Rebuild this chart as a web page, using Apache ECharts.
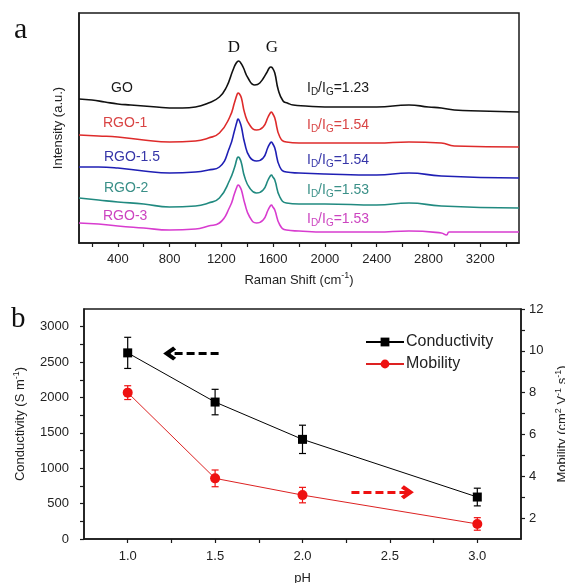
<!DOCTYPE html>
<html>
<head>
<meta charset="utf-8">
<script src="https://cdn.jsdelivr.net/npm/echarts@6/dist/echarts.min.js"></script>
<style>
  html, body { margin: 0; padding: 0; background: #fff; }
  #chart { width: 565px; height: 583px; }
</style>
</head>
<body>
<div id="chart"></div>
<script>
// ---- Panel a: Raman spectra (offset stacked), [shift cm-1, intensity a.u.] ----
const spectrumGO = [
  [100,144],[200,143],[300,141],[400,139],[500,138],[600,137],[700,136],[800,135],[900,135],
  [1000,136],[1100,140],[1185,146],[1240,156],[1290,173],[1315,180],[1334,182],[1350,180],
  [1368,176],[1406,165],[1458,158],[1497,160],[1549,170],[1570,175],[1582,176],[1595,175],
  [1613,170],[1640,153],[1677,142],[1710,140],[1755,138],[1850,137],[2000,136],[2200,136],
  [2400,136],[2650,138],[2800,136],[2900,135],[3000,133],[3200,132],[3500,131]
];
const spectrumRGO1 = [
  [100,108],[250,107],[400,106],[600,103],[800,101],[1000,102],[1100,105],[1185,110],
  [1265,126],[1303,141],[1320,148],[1329,150],[1340,149],[1355,145],[1380,130],[1419,118],
  [1471,113],[1523,116],[1561,126],[1578,130],[1587,131],[1598,129],[1613,125],[1652,106],
  [1703,101],[1800,100],[2000,100],[2400,100],[2650,101],[2900,100],[3000,97],[3500,96]
];
const spectrumRGO15 = [
  [100,76],[250,76],[400,75],[600,72],[800,70],[1000,71],[1100,73],[1185,76],
  [1265,96],[1303,113],[1320,121],[1329,124],[1340,122],[1355,116],[1380,100],[1419,86],
  [1471,82],[1523,85],[1561,96],[1578,100],[1587,101],[1598,99],[1613,95],[1652,76],
  [1703,71],[1800,70],[2000,69],[2400,68],[2650,70],[2900,67],[3500,65]
];
const spectrumRGO2 = [
  [100,45],[250,43],[400,41],[600,39],[800,36],[1000,37],[1100,40],[1185,45],
  [1265,63],[1303,76],[1320,84],[1329,86],[1340,85],[1355,80],[1380,66],[1419,55],
  [1471,50],[1523,53],[1561,63],[1578,67],[1587,68],[1598,66],[1613,63],[1652,46],
  [1703,40],[1800,39],[2000,39],[2400,38],[2650,40],[2900,37],[3500,35]
];
const spectrumRGO3 = [
  [100,20],[250,19],[400,17],[600,15],[800,13],[1000,14],[1100,17],[1185,20],
  [1265,36],[1303,50],[1320,56],[1329,58],[1340,57],[1355,53],[1380,40],[1419,26],
  [1471,20],[1523,23],[1561,33],[1578,37],[1587,38],[1598,36],[1613,33],[1652,18],
  [1703,13],[1800,12],[2000,11],[2400,11],[2650,12],[2900,10],[2940,8],[2960,11],[3500,11]
];
const sampleNames = ['GO', 'RGO-1', 'RGO-1.5', 'RGO-2', 'RGO-3'];
const ratioValues = ['1.23', '1.54', '1.54', '1.53', '1.53'];
const sampleColors = ['#111111', '#de2b2b', '#1f1fb4', '#218a80', '#d83ccf'];
const labelColors = ['#1a1a1a', '#d94444', '#3535a8', '#3a9088', '#cc44c0'];
const ramanTicks = [200,400,600,800,1000,1200,1400,1600,1800,2000,2200,2400,2600,2800,3000,3200,3400];
const ramanLabels = [400,800,1200,1600,2000,2400,2800,3200];

// ---- Panel b: conductivity and mobility vs pH ----
const pH = [1.0, 1.5, 2.0, 3.0];
const conductivity = [2630, 1935, 1408, 593];
const conductivityErr = [220, 180, 200, 125];
const mobility = [8.0, 3.9, 3.1, 1.72];
const mobilityErr = [0.33, 0.4, 0.37, 0.3];
const pHTicks = [1.0, 1.25, 1.5, 1.75, 2.0, 2.25, 2.5, 2.75, 3.0];
const pHLabels = [1.0, 1.5, 2.0, 2.5, 3.0];
const condTicks = [0,250,500,750,1000,1250,1500,1750,2000,2250,2500,2750,3000];
const condLabels = [0,500,1000,1500,2000,2500,3000];
const mobTicks = [2,3,4,5,6,7,8,9,10,11,12];
const mobLabels = [2,4,6,8,10,12];

const SANS = '"Liberation Sans", Arial, sans-serif';
const SERIF = '"Liberation Serif", "Times New Roman", serif';
const INK = '#222';
const plain = v => String(v);

const chart = echarts.init(document.getElementById('chart'), null, { renderer: 'canvas' });

function errorBarSeries(name, data, err, yAxisIndex, color) {
  return {
    type: 'custom',
    name: name + ' error',
    xAxisIndex: 1,
    yAxisIndex: yAxisIndex,
    z: 3,
    silent: true,
    data: pH.map((x, i) => [x, data[i], err[i]]),
    encode: { x: 0, y: 1 },
    renderItem: function (params, api) {
      const x = api.value(0), y = api.value(1), e = api.value(2);
      const hi = api.coord([x, y + e]);
      const lo = api.coord([x, y - e]);
      const w = 3.5;
      const st = { stroke: color, lineWidth: 1.2 };
      return {
        type: 'group',
        children: [
          { type: 'line', shape: { x1: hi[0], y1: hi[1], x2: lo[0], y2: lo[1] }, style: st },
          { type: 'line', shape: { x1: hi[0] - w, y1: hi[1], x2: hi[0] + w, y2: hi[1] }, style: st },
          { type: 'line', shape: { x1: lo[0] - w, y1: lo[1], x2: lo[0] + w, y2: lo[1] }, style: st }
        ]
      };
    }
  };
}

const chevron = 'path://M10,0 L20,10 L16,13 L10,7 L4,13 L0,10 Z';

const spectra = [spectrumGO, spectrumRGO1, spectrumRGO15, spectrumRGO2, spectrumRGO3];

const subRich = {
  n: { fontSize: 14, fontFamily: SANS, lineHeight: 18, verticalAlign: 'middle' },
  s: { fontSize: 10, fontFamily: SANS, lineHeight: 10, padding: [9, 0, 0, 0], verticalAlign: 'middle' },
  p: { fontSize: 9, fontFamily: SANS, lineHeight: 9, padding: [0, 0, 8, 0], verticalAlign: 'middle' },
  t: { fontSize: 13, fontFamily: SANS, lineHeight: 18, verticalAlign: 'middle' }
};

const graphics = [
  { type: 'text', left: 14, top: 15, style: { text: 'a', font: '30px ' + SERIF, fill: '#111' } },
  { type: 'text', left: 11, top: 305, style: { text: 'b', font: '29px ' + SERIF, fill: '#111' } },
  { type: 'text', x: 234, y: 48, style: { text: 'D', font: '17px ' + SERIF, fill: '#111', align: 'center', verticalAlign: 'middle' } },
  { type: 'text', x: 272, y: 48, style: { text: 'G', font: '17px ' + SERIF, fill: '#111', align: 'center', verticalAlign: 'middle' } }
];
const nameX = [111, 103, 104, 104, 103];
const nameY = [88, 123, 157, 188, 216];
const ratioY = [88, 125, 160, 190, 219];
sampleNames.forEach((n, i) => {
  graphics.push({
    type: 'text', x: nameX[i], y: nameY[i],
    style: { text: n, font: '14px ' + SANS, fill: labelColors[i], verticalAlign: 'middle' }
  });
  graphics.push({
    type: 'text', x: 307, y: ratioY[i],
    style: {
      text: '{n|I}{s|D}{n|/I}{s|G}{n|=' + ratioValues[i] + '}',
      fill: labelColors[i], verticalAlign: 'middle',
      rich: {
        n: Object.assign({}, subRich.n, { fill: labelColors[i] }),
        s: Object.assign({}, subRich.s, { fill: labelColors[i] })
      }
    }
  });
});

const option = {
  backgroundColor: '#fff',
  animation: false,
  textStyle: { fontFamily: SANS, color: INK },
  grid: [
    { left: 79, top: 13, width: 440, height: 230, outerBoundsMode: 'none', containLabel: false, show: true, borderColor: '#1a1a1a', borderWidth: 1.5, backgroundColor: 'transparent' },
    { left: 84, top: 309, width: 437, height: 230, outerBoundsMode: 'none', containLabel: false, show: true, borderColor: '#1a1a1a', borderWidth: 1.5, backgroundColor: 'transparent' }
  ],
  legend: {
    data: ['Conductivity', 'Mobility'],
    orient: 'vertical',
    left: 360, top: 329,
    itemWidth: 38, itemHeight: 11, itemGap: 6,
    textStyle: { fontSize: 16, fontFamily: SANS, color: '#222', padding: [0, 0, 0, -3] }
  },
  xAxis: [
    {
      type: 'value', gridIndex: 0, min: 100, max: 3500,
      name: '{t|Raman Shift (cm}{p|-1}{t|)}', nameLocation: 'middle', nameGap: 28,
      nameTextStyle: { rich: subRich, color: INK },
      axisLine: { lineStyle: { color: '#1a1a1a', width: 1.5 } },
      axisTick: { show: true, length: 4, inside: false, lineStyle: { color: '#1a1a1a', width: 1.2 }, customValues: ramanTicks },
      axisLabel: { fontSize: 13, color: INK, margin: 10, customValues: ramanLabels, formatter: plain },
      splitLine: { show: false }
    },
    {
      type: 'value', gridIndex: 1, min: 0.75, max: 3.25,
      name: 'pH', nameLocation: 'middle', nameGap: 33,
      nameTextStyle: { fontSize: 13, color: INK },
      axisLine: { lineStyle: { color: '#1a1a1a', width: 1.5 } },
      axisTick: { show: true, length: 4, lineStyle: { color: '#1a1a1a', width: 1.2 }, customValues: pHTicks },
      axisLabel: { fontSize: 13, color: INK, margin: 11, customValues: pHLabels, formatter: v => Number(v).toFixed(1) },
      splitLine: { show: false }
    }
  ],
  yAxis: [
    {
      type: 'value', gridIndex: 0, min: 0, max: 230,
      name: 'Intensity (a.u.)', nameLocation: 'middle', nameGap: 14,
      nameTextStyle: { fontSize: 13, color: INK },
      axisLine: { show: true, lineStyle: { color: '#1a1a1a', width: 1.5 } },
      axisTick: { show: false }, axisLabel: { show: false }, splitLine: { show: false }
    },
    {
      type: 'value', gridIndex: 1, min: 0, max: 3250, position: 'left',
      name: '{t|Conductivity (S m}{p|-1}{t|)}', nameLocation: 'middle', nameGap: 50,
      nameTextStyle: { rich: subRich, color: INK },
      axisLine: { show: true, lineStyle: { color: '#1a1a1a', width: 1.5 } },
      axisTick: { show: true, length: 4, lineStyle: { color: '#1a1a1a', width: 1.2 }, customValues: condTicks },
      axisLabel: { fontSize: 13, color: INK, margin: 15, customValues: condLabels, formatter: plain },
      splitLine: { show: false }
    },
    {
      type: 'value', gridIndex: 1, min: 1, max: 12, position: 'right',
      name: '{t|Mobility (cm}{p|2}{t| V}{p|-1}{t| s}{p|-1}{t|)}', nameLocation: 'middle', nameGap: 25,
      nameTextStyle: { rich: subRich, color: INK },
      axisLine: { show: true, lineStyle: { color: '#1a1a1a', width: 1.5 } },
      axisTick: { show: true, length: 4, lineStyle: { color: '#1a1a1a', width: 1.2 }, customValues: mobTicks },
      axisLabel: { fontSize: 13, color: INK, margin: 8, customValues: mobLabels, formatter: plain },
      splitLine: { show: false }
    }
  ],
  series: [
    ...spectra.map((d, i) => ({
      type: 'line', name: sampleNames[i], xAxisIndex: 0, yAxisIndex: 0,
      data: d, showSymbol: false, smooth: 0.5,
      lineStyle: { color: sampleColors[i], width: 1.6 }, silent: true
    })),
    {
      type: 'line', name: 'Conductivity', xAxisIndex: 1, yAxisIndex: 1,
      data: pH.map((x, i) => [x, conductivity[i]]),
      symbol: 'rect', symbolSize: 9, z: 4,
      itemStyle: { color: '#000' }, lineStyle: { color: '#000', width: 1 },
      markLine: {
        silent: true, symbol: ['none', chevron], symbolSize: [14, 13],
        lineStyle: { color: '#000', type: [8, 4], width: 3 },
        label: { show: false },
        data: [[{ coord: [1.52, 2620] }, { coord: [1.24, 2620] }]]
      }
    },
    {
      type: 'line', name: 'Mobility', xAxisIndex: 1, yAxisIndex: 2,
      data: pH.map((x, i) => [x, mobility[i]]),
      symbol: 'circle', symbolSize: 10, z: 4,
      itemStyle: { color: '#ee1111' }, lineStyle: { color: '#dd2222', width: 1 },
      markLine: {
        silent: true, symbol: ['none', chevron], symbolSize: [14, 13],
        lineStyle: { color: '#ee1111', type: [8, 4], width: 3 },
        label: { show: false },
        data: [[{ coord: [2.28, 3.23] }, { coord: [2.6, 3.23] }]]
      }
    },
    errorBarSeries('Conductivity', conductivity, conductivityErr, 1, '#000'),
    errorBarSeries('Mobility', mobility, mobilityErr, 2, '#ee1111')
  ],
  graphic: graphics
};

chart.setOption(option);
</script>
</body>
</html>
